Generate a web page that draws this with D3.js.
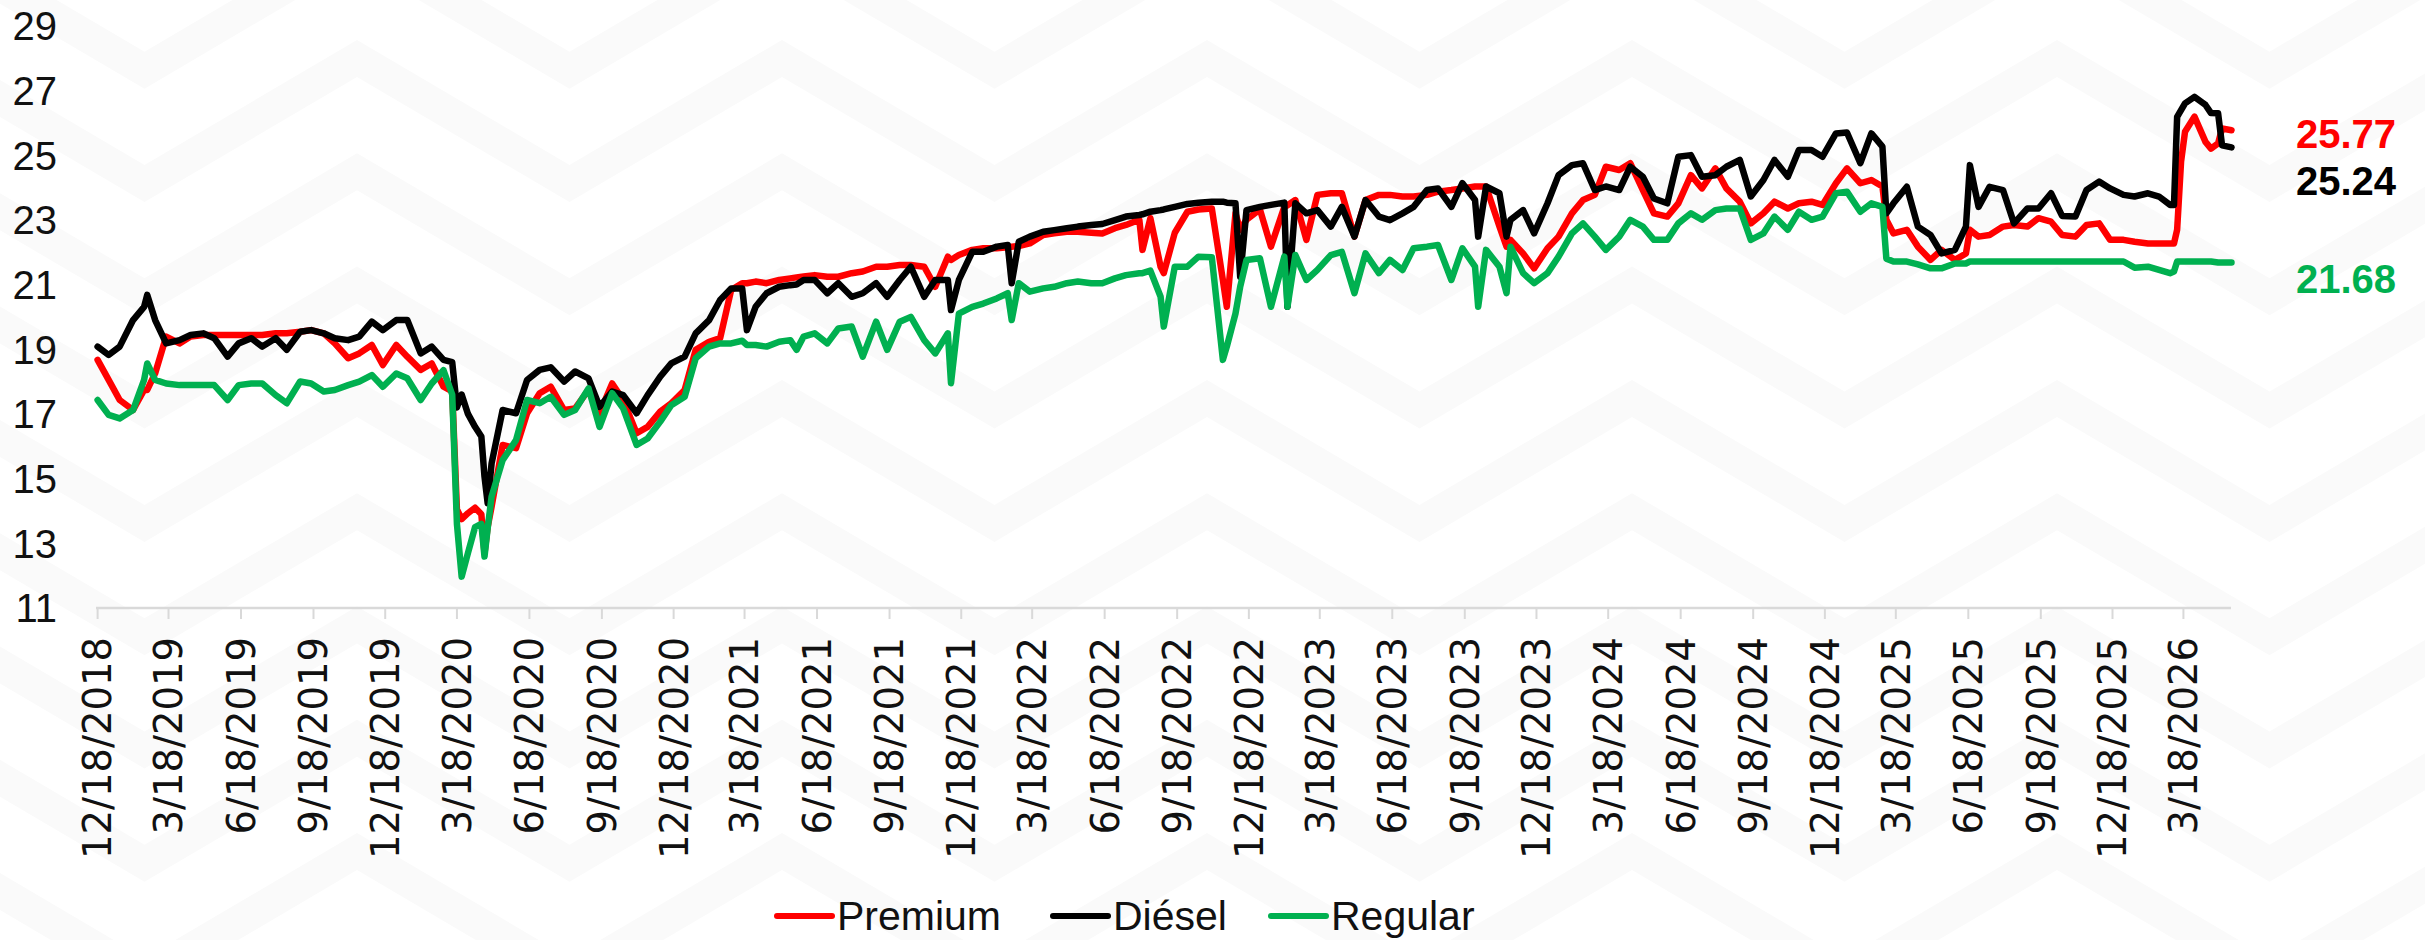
<!DOCTYPE html>
<html>
<head>
<meta charset="utf-8">
<script src="https://cdn.jsdelivr.net/npm/d3@7"></script>
<style>
  html, body { margin: 0; padding: 0; background: #ffffff; }
  svg { display: block; }
</style>
</head>
<body>
<svg id="chart" width="2425" height="940"></svg>
<script>
// ---------------- DATA ----------------
const dates = [
"2018-12-18","2019-01-01","2019-01-15","2019-02-01","2019-02-15","2019-02-19","2019-03-01","2019-03-15","2019-04-01","2019-04-15",
"2019-05-01","2019-05-15","2019-06-01","2019-06-15","2019-07-01","2019-07-15","2019-08-01","2019-08-15","2019-09-01","2019-09-15",
"2019-10-01","2019-10-15","2019-11-01","2019-11-15","2019-12-01","2019-12-15","2020-01-01","2020-01-15","2020-02-01","2020-02-15",
"2020-03-01","2020-03-12","2020-03-18","2020-03-24","2020-04-01","2020-04-10","2020-04-18","2020-04-22","2020-04-26","2020-05-01",
"2020-05-15","2020-06-01","2020-06-15","2020-07-01","2020-07-15","2020-08-01","2020-08-15","2020-09-01","2020-09-15","2020-10-01",
"2020-10-15","2020-11-01","2020-11-15","2020-12-01","2020-12-15","2021-01-01","2021-01-15","2021-02-01","2021-02-15","2021-03-01",
"2021-03-15","2021-03-21","2021-04-01","2021-04-15","2021-05-01","2021-05-15","2021-05-23","2021-06-01","2021-06-15","2021-07-01",
"2021-07-15","2021-08-01","2021-08-15","2021-09-01","2021-09-15","2021-10-01","2021-10-15","2021-11-01","2021-11-15","2021-12-01",
"2021-12-05","2021-12-15","2022-01-01","2022-01-15","2022-02-01","2022-02-15","2022-02-20","2022-03-01","2022-03-15","2022-04-01",
"2022-04-15","2022-05-01","2022-05-15","2022-06-01","2022-06-15","2022-07-01","2022-07-15","2022-08-01","2022-08-05","2022-08-15",
"2022-08-28","2022-09-01","2022-09-15","2022-10-01","2022-10-15","2022-11-01","2022-11-15","2022-11-20","2022-12-01","2022-12-07",
"2022-12-15","2023-01-01","2023-01-15","2023-02-01","2023-02-05","2023-02-15","2023-03-01","2023-03-15","2023-04-01","2023-04-15",
"2023-05-01","2023-05-15","2023-06-01","2023-06-15","2023-07-01","2023-07-15","2023-08-01","2023-08-15","2023-09-01","2023-09-15",
"2023-10-01","2023-10-05","2023-10-15","2023-11-01","2023-11-10","2023-11-15","2023-12-01","2023-12-15","2024-01-01","2024-01-15",
"2024-02-01","2024-02-15","2024-03-01","2024-03-15","2024-04-01","2024-04-15","2024-05-01","2024-05-15","2024-06-01","2024-06-15",
"2024-07-01","2024-07-15","2024-08-01","2024-08-15","2024-09-01","2024-09-15","2024-10-01","2024-10-15","2024-11-01","2024-11-15",
"2024-12-01","2024-12-15","2025-01-01","2025-01-15","2025-02-01","2025-02-15","2025-03-01","2025-03-06","2025-03-15","2025-04-01",
"2025-04-15","2025-05-01","2025-05-15","2025-06-01","2025-06-15","2025-06-20","2025-07-01","2025-07-15","2025-08-01","2025-08-15",
"2025-09-01","2025-09-15","2025-10-01","2025-10-15","2025-11-01","2025-11-15","2025-12-01","2025-12-15","2026-01-01","2026-01-15",
"2026-02-01","2026-02-15","2026-03-01","2026-03-06","2026-03-10","2026-03-15","2026-03-20","2026-04-01","2026-04-15","2026-04-22",
"2026-05-01","2026-05-06","2026-05-18"
];

const premium = [
18.67,18.05,17.43,17.12,17.74,17.74,18.25,19.39,19.18,19.39,
19.44,19.44,19.44,19.44,19.44,19.44,19.49,19.49,19.54,19.59,
19.49,19.18,18.72,18.87,19.13,18.51,19.13,18.77,18.36,18.56,
17.84,17.70,14.05,13.75,13.93,14.10,13.90,12.69,13.50,14.13,
16.04,15.94,17.02,17.64,17.84,17.12,17.17,17.74,17.02,17.94,
17.43,16.40,16.60,17.07,17.33,17.74,18.98,19.23,19.34,20.83,
21.04,21.04,21.09,21.04,21.14,21.19,21.22,21.25,21.29,21.24,
21.24,21.35,21.40,21.55,21.55,21.60,21.60,21.55,20.93,21.86,
21.76,21.91,22.07,22.12,22.12,22.15,22.17,22.19,22.27,22.53,
22.58,22.63,22.63,22.60,22.58,22.74,22.84,23.00,22.07,23.05,
21.55,21.35,22.60,23.25,23.32,23.35,21.14,20.31,23.20,22.69,
23.00,23.32,22.17,23.40,23.45,23.61,22.38,23.77,23.82,23.82,
22.48,23.61,23.77,23.77,23.72,23.72,23.77,23.87,23.92,23.97,
24.03,24.03,24.03,22.79,22.17,22.38,21.96,21.50,22.12,22.48,
23.20,23.61,23.77,24.64,24.54,24.75,23.92,23.20,23.10,23.51,
24.38,23.97,24.59,23.97,23.56,22.89,23.20,23.56,23.35,23.51,
23.56,23.46,24.13,24.59,24.13,24.23,24.03,23.00,22.58,22.69,
22.17,21.76,22.07,21.76,21.96,22.69,22.48,22.53,22.79,22.84,
22.79,23.05,22.94,22.53,22.48,22.84,22.89,22.38,22.38,22.32,
22.27,22.27,22.27,22.27,22.69,24.80,25.72,26.19,25.41,25.20,
25.36,25.82,25.77
];

const diesel = [
19.08,18.82,19.08,19.90,20.31,20.68,19.90,19.18,19.28,19.44,
19.49,19.34,18.77,19.18,19.34,19.08,19.34,18.98,19.54,19.59,
19.49,19.34,19.28,19.39,19.85,19.59,19.90,19.90,18.87,19.08,
18.67,18.60,17.20,17.60,17.00,16.60,16.30,15.06,14.24,15.47,
17.12,17.02,18.05,18.36,18.44,18.00,18.31,18.10,17.22,17.69,
17.58,17.02,17.58,18.15,18.56,18.77,19.49,19.90,20.52,20.88,
20.88,19.59,20.31,20.73,20.93,20.98,21.00,21.14,21.14,20.73,
21.04,20.62,20.73,21.04,20.62,21.14,21.55,20.62,21.14,21.14,
20.21,21.14,22.01,22.01,22.17,22.22,21.04,22.32,22.48,22.63,
22.68,22.74,22.79,22.84,22.87,22.99,23.10,23.15,23.17,23.25,
23.30,23.32,23.40,23.49,23.53,23.56,23.56,23.53,23.51,21.24,
23.30,23.40,23.46,23.53,20.31,23.51,23.20,23.30,22.79,23.40,
22.48,23.61,23.10,22.99,23.20,23.40,23.92,23.97,23.40,24.13,
23.61,22.48,24.03,23.82,22.48,23.00,23.30,22.58,23.51,24.38,
24.69,24.75,23.92,24.03,23.92,24.64,24.33,23.66,23.51,24.95,
25.00,24.33,24.38,24.64,24.85,23.72,24.23,24.85,24.33,25.16,
25.16,24.95,25.67,25.70,24.75,25.67,25.26,23.20,23.51,24.02,
22.79,22.53,21.96,22.07,22.79,24.69,23.40,24.02,23.92,22.89,
23.35,23.35,23.82,23.12,23.10,23.92,24.18,23.97,23.77,23.72,
23.82,23.72,23.46,23.46,26.18,26.39,26.60,26.80,26.55,26.30,
26.29,25.30,25.24
];

const regular = [
17.43,16.97,16.86,17.12,18.05,18.56,18.05,17.94,17.89,17.89,
17.89,17.89,17.43,17.89,17.94,17.94,17.58,17.33,18.00,17.94,
17.69,17.74,17.89,18.00,18.20,17.84,18.25,18.10,17.43,17.94,
18.35,17.60,13.60,11.97,12.70,13.50,13.60,12.59,13.46,14.44,
15.57,16.19,17.43,17.33,17.53,16.97,17.12,17.79,16.60,17.64,
17.17,16.04,16.24,16.76,17.27,17.53,18.72,19.08,19.18,19.18,
19.26,19.13,19.13,19.08,19.23,19.28,18.98,19.39,19.49,19.18,
19.64,19.70,18.77,19.85,18.98,19.85,20.00,19.28,18.87,19.49,
17.95,20.10,20.31,20.41,20.57,20.73,19.90,21.04,20.78,20.88,
20.93,21.04,21.09,21.04,21.04,21.19,21.29,21.35,21.35,21.43,
20.62,19.70,21.55,21.55,21.86,21.84,18.67,19.08,20.10,20.93,
21.76,21.81,20.31,21.86,20.31,21.91,21.14,21.45,21.91,22.01,
20.73,21.96,21.35,21.76,21.45,22.12,22.17,22.22,21.14,22.12,
21.55,20.31,22.07,21.55,20.73,22.17,21.35,21.04,21.35,21.86,
22.58,22.89,22.48,22.07,22.48,23.00,22.79,22.38,22.38,22.89,
23.20,23.00,23.30,23.35,23.35,22.38,22.58,23.10,22.69,23.25,
23.00,23.10,23.82,23.87,23.25,23.51,23.40,21.80,21.71,21.71,
21.62,21.50,21.50,21.65,21.65,21.71,21.71,21.71,21.71,21.71,
21.71,21.71,21.71,21.71,21.71,21.71,21.71,21.71,21.71,21.52,
21.55,21.45,21.35,21.40,21.71,21.71,21.71,21.71,21.71,21.71,
21.68,21.68,21.68
];

const seriesNames  = ["Premium", "Diésel", "Regular"];
const seriesColors = ["#FF0000", "#000000", "#00B050"];
const lastLabels   = ["25.77", "25.24", "21.68"];
const yTickValues  = [11, 13, 15, 17, 19, 21, 23, 25, 27, 29];
const xTickLabels  = [
"12/18/2018","3/18/2019","6/18/2019","9/18/2019","12/18/2019","3/18/2020","6/18/2020","9/18/2020",
"12/18/2020","3/18/2021","6/18/2021","9/18/2021","12/18/2021","3/18/2022","6/18/2022","9/18/2022",
"12/18/2022","3/18/2023","6/18/2023","9/18/2023","12/18/2023","3/18/2024","6/18/2024","9/18/2024",
"12/18/2024","3/18/2025","6/18/2025","9/18/2025","12/18/2025","3/18/2026"
];

// ---------------- DRAW ----------------
const svg = d3.select("#chart");
const W = 2425, H = 940;
const parse = d3.utcParse("%Y-%m-%d");
const parseTick = d3.utcParse("%m/%d/%Y");
const dts = dates.map(parse);

const x = d3.scaleUtc()
  .domain([parse("2018-12-18"), parse("2026-05-18")])
  .range([97.6, 2231.5]);
const y = d3.scaleLinear().domain([11, 29]).range([608, 25.7]);

// background chevron pattern (decorative, very faint)
const bg = svg.append("g");
bg.append("rect").attr("width", W).attr("height", H).attr("fill", "#ffffff");
const period = 425, half = 212.5, amp = 125, thick = 37, vstep = 113.3;
for (let k = -3; k <= 9; k++) {
  const top = 40 + vstep * k;
  const upper = [], lower = [];
  for (let j = -2; j <= 6; j++) {
    const px = 357 + period * j;
    upper.push([px, top]);
    upper.push([px + half, top + amp]);
  }
  for (let i = upper.length - 1; i >= 0; i--) lower.push([upper[i][0], upper[i][1] + thick]);
  bg.append("path")
    .attr("d", d3.line()(upper.concat(lower)) + "Z")
    .attr("fill", "#fafafa");
}

// x axis line and ticks
const axisG = svg.append("g");
axisG.append("line")
  .attr("x1", 96).attr("x2", 2231)
  .attr("y1", 608).attr("y2", 608)
  .attr("stroke", "#d9d9d9").attr("stroke-width", 2.5);
xTickLabels.forEach(lbl => {
  const xx = x(parseTick(lbl));
  axisG.append("line")
    .attr("x1", xx).attr("x2", xx).attr("y1", 608).attr("y2", 619)
    .attr("stroke", "#d9d9d9").attr("stroke-width", 2);
  axisG.append("text")
    .attr("transform", `translate(${xx},637) rotate(-90)`)
    .attr("text-anchor", "end")
    .attr("dy", "0.36em")
    .attr("font-family", "'DejaVu Sans', sans-serif")
    .attr("font-size", 38.5)
    .attr("fill", "#111111")
    .text(lbl);
});

// y axis labels
const yG = svg.append("g");
yTickValues.forEach(v => {
  yG.append("text")
    .attr("x", 57).attr("y", y(v))
    .attr("dy", "0.36em")
    .attr("text-anchor", "end")
    .attr("font-family", "'Liberation Sans', Arial, sans-serif")
    .attr("font-size", 40)
    .attr("fill", "#111111")
    .text(v);
});

// lines
const seriesValues = [premium, diesel, regular];
const line = d3.line()
  .x((d, i) => x(dts[i]))
  .y(d => y(d));
seriesValues.forEach((vals, s) => {
  svg.append("path")
    .datum(vals)
    .attr("d", line)
    .attr("fill", "none")
    .attr("stroke", seriesColors[s])
    .attr("stroke-width", 6.5)
    .attr("stroke-linejoin", "round")
    .attr("stroke-linecap", "round");
});

// last value labels
const lastY = [148, 195, 293];
lastLabels.forEach((t, s) => {
  svg.append("text")
    .attr("x", 2296).attr("y", lastY[s])
    .attr("font-family", "'Liberation Sans', Arial, sans-serif")
    .attr("font-weight", "bold")
    .attr("font-size", 40)
    .attr("fill", seriesColors[s])
    .text(t);
});

// legend
const legX = [777, 1053, 1271];
const legG = svg.append("g");
seriesNames.forEach((n, s) => {
  legG.append("line")
    .attr("x1", legX[s]).attr("x2", legX[s] + 55)
    .attr("y1", 916).attr("y2", 916)
    .attr("stroke", seriesColors[s]).attr("stroke-width", 6)
    .attr("stroke-linecap", "round");
  legG.append("text")
    .attr("x", legX[s] + 60).attr("y", 930)
    .attr("font-family", "'Liberation Sans', Arial, sans-serif")
    .attr("font-size", 41)
    .attr("fill", "#111111")
    .text(n);
});
</script>
</body>
</html>
